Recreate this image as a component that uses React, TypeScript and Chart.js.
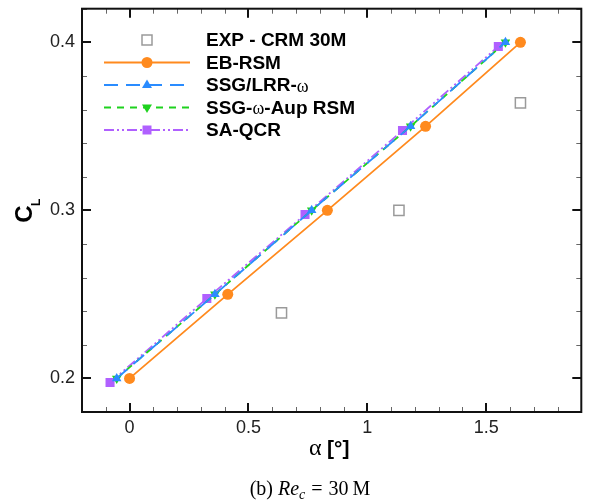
import React, { useEffect, useRef } from 'react';
import { Chart, registerables } from 'chart.js';

Chart.register(...registerables);

// ---- data ----
const expAlpha = [0.639, 1.133, 1.644];
const expCL = [0.239, 0.3, 0.364];

const ebAlpha = [0.0, 0.413, 0.832, 1.245, 1.644];
const ebCL = [0.2, 0.25, 0.3, 0.35, 0.4];

const ssgAlpha = [-0.054, 0.359, 0.766, 1.182, 1.581];
const ssgCL = [0.2, 0.25, 0.3, 0.35, 0.4];

const aupAlpha = [-0.054, 0.359, 0.766, 1.182, 1.581];
const aupCL = [0.2, 0.25, 0.3, 0.35, 0.4];

const saAlpha = [-0.082, 0.325, 0.738, 1.148, 1.551];
const saCL = [0.1975, 0.2475, 0.2975, 0.3475, 0.3975];

const xMajor = [0, 0.5, 1, 1.5];
const xMinor = [-0.2, -0.1, 0.1, 0.2, 0.3, 0.4, 0.6, 0.7, 0.8, 0.9, 1.1, 1.2, 1.3, 1.4, 1.6, 1.7, 1.8, 1.9];
const yMajor = [0.2, 0.3, 0.4];
const yMinor = [0.18, 0.22, 0.24, 0.26, 0.28, 0.32, 0.34, 0.36, 0.38, 0.42];

const legendLabels = ['EXP - CRM 30M', 'EB-RSM', 'SSG/LRR-ω', 'SSG-ω-Aup RSM', 'SA-QCR'];

const ORANGE = '#FF8A1E';
const BLUE = '#2A8CFF';
const GREEN = '#1ED21E';
const PURPLE = '#B060FF';
const GRAY = '#9a9a9a';

const pts = (xs: number[], ys: number[]) => xs.map((x, i) => ({ x, y: ys[i] }));

const SANS = '"Liberation Sans", Arial, sans-serif';
const SERIF = '"Liberation Serif", "Times New Roman", serif';

function drawMarker(ctx: CanvasRenderingContext2D, kind: string, x: number, y: number, color: string) {
  ctx.save();
  ctx.setLineDash([]);
  ctx.fillStyle = color;
  ctx.strokeStyle = color;
  ctx.beginPath();
  if (kind === 'circle') {
    ctx.arc(x, y, 5.5, 0, Math.PI * 2);
    ctx.fill();
  } else if (kind === 'tri') {
    ctx.moveTo(x, y - 5.5);
    ctx.lineTo(x + 5, y + 3);
    ctx.lineTo(x - 5, y + 3);
    ctx.closePath();
    ctx.fill();
  } else if (kind === 'trid') {
    ctx.moveTo(x, y + 5.5);
    ctx.lineTo(x + 5, y - 3);
    ctx.lineTo(x - 5, y - 3);
    ctx.closePath();
    ctx.fill();
  } else if (kind === 'sq') {
    ctx.rect(x - 4.5, y - 4.5, 9, 9);
    ctx.fill();
  } else if (kind === 'hsq') {
    ctx.lineWidth = 1.5;
    ctx.strokeStyle = GRAY;
    ctx.rect(x - 5, y - 5, 10, 10);
    ctx.stroke();
  }
  ctx.restore();
}

const decorPlugin = {
  id: 'decor',
  afterDraw(chart: any) {
    const ctx: CanvasRenderingContext2D = chart.ctx;
    const { left, right, top, bottom } = chart.chartArea;
    const xs = chart.scales.x;
    const ys = chart.scales.y;
    ctx.save();
    const tick = (vals: number[], len: number, lw: number, color: string) => {
      ctx.lineWidth = lw;
      ctx.strokeStyle = color;
      ctx.beginPath();
      for (const v of vals) {
        const px = Math.round(xs.getPixelForValue(v)) + 0.5 * (lw % 2);
        ctx.moveTo(px, bottom);
        ctx.lineTo(px, bottom - len);
        ctx.moveTo(px, top);
        ctx.lineTo(px, top + len);
      }
      ctx.stroke();
    };
    const ytick = (vals: number[], len: number, lw: number, color: string) => {
      ctx.lineWidth = lw;
      ctx.strokeStyle = color;
      ctx.beginPath();
      for (const v of vals) {
        const py = Math.round(ys.getPixelForValue(v)) + 0.5 * (lw % 2);
        ctx.moveTo(left, py);
        ctx.lineTo(left + len, py);
        ctx.moveTo(right, py);
        ctx.lineTo(right - len, py);
      }
      ctx.stroke();
    };
    tick(xMinor, 5, 1, '#666');
    ytick(yMinor, 5, 1, '#666');
    tick(xMajor, 9, 2, '#111');
    ytick(yMajor, 9, 2, '#111');
    ctx.lineWidth = 2;
    ctx.strokeStyle = '#111';
    ctx.strokeRect(left, top, right - left, bottom - top);

    // legend
    const rows = [40, 62.5, 85, 107.5, 130];
    const styles = [
      { kind: 'hsq', color: GRAY, dash: null as number[] | null },
      { kind: 'circle', color: ORANGE, dash: [] },
      { kind: 'tri', color: BLUE, dash: [14, 8] },
      { kind: 'trid', color: GREEN, dash: [7, 6] },
      { kind: 'sq', color: PURPLE, dash: [10, 3, 2, 3, 2, 3] },
    ];
    rows.forEach((y, i) => {
      const s = styles[i];
      if (s.dash) {
        ctx.save();
        ctx.setLineDash(s.dash);
        ctx.lineWidth = 1.8;
        ctx.strokeStyle = s.color;
        ctx.beginPath();
        ctx.moveTo(104, y);
        ctx.lineTo(190, y);
        ctx.stroke();
        ctx.restore();
      }
      drawMarker(ctx, s.kind, 147, y, s.color);
      const label = legendLabels[i];
      const parts = label.split('ω');
      let x = 206;
      ctx.fillStyle = '#000';
      ctx.textBaseline = 'middle';
      ctx.textAlign = 'left';
      parts.forEach((p, k) => {
        ctx.font = `bold 19px ${SANS}`;
        ctx.fillText(p, x, y + 1);
        x += ctx.measureText(p).width;
        if (k < parts.length - 1) {
          ctx.font = `18px ${SERIF}`;
          ctx.fillText('ω', x, y + 2);
          x += ctx.measureText('ω').width;
        }
      });
    });

    // y title C_L
    ctx.save();
    ctx.translate(25, 214);
    ctx.rotate(-Math.PI / 2);
    ctx.fillStyle = '#000';
    ctx.textAlign = 'center';
    ctx.textBaseline = 'middle';
    ctx.font = `bold 24px ${SANS}`;
    ctx.fillText('C', 0, 0);
    ctx.textAlign = 'left';
    ctx.textBaseline = 'alphabetic';
    ctx.font = `bold 12px ${SANS}`;
    ctx.fillText('L', 8, 15);
    ctx.restore();

    // x title α [°]
    ctx.fillStyle = '#000';
    ctx.textAlign = 'left';
    ctx.textBaseline = 'alphabetic';
    ctx.font = `24px ${SERIF}`;
    ctx.fillText('α', 309, 455);
    ctx.font = `bold 21px ${SANS}`;
    ctx.fillText('[°]', 327, 455);
    ctx.restore();
  },
};

export default function App() {
  const ref = useRef<HTMLCanvasElement | null>(null);
  useEffect(() => {
    if (!ref.current) return;
    const chart = new Chart(ref.current, {
      type: 'scatter',
      data: {
        datasets: [
          {
            label: legendLabels[0],
            data: pts(expAlpha, expCL),
            showLine: false,
            pointStyle: 'rect',
            pointRadius: 7.2,
            backgroundColor: 'rgba(0,0,0,0)',
            borderColor: GRAY,
            pointBorderWidth: 1.5,
          },
          {
            label: legendLabels[1],
            data: pts(ebAlpha, ebCL),
            showLine: true,
            borderColor: ORANGE,
            backgroundColor: ORANGE,
            borderWidth: 1.8,
            pointStyle: 'circle',
            pointRadius: 5.5,
            pointBorderWidth: 0,
          },
          {
            label: legendLabels[2],
            data: pts(ssgAlpha, ssgCL),
            showLine: true,
            borderColor: BLUE,
            backgroundColor: BLUE,
            borderWidth: 1.8,
            borderDash: [14, 8],
            pointStyle: 'triangle',
            pointRadius: 5.5,
            pointBorderWidth: 0,
          },
          {
            label: legendLabels[3],
            data: pts(aupAlpha, aupCL),
            showLine: true,
            borderColor: GREEN,
            backgroundColor: GREEN,
            borderWidth: 1.8,
            borderDash: [7, 6],
            pointStyle: 'triangle',
            rotation: 180,
            pointRadius: 5.5,
            pointBorderWidth: 0,
          },
          {
            label: legendLabels[4],
            data: pts(saAlpha, saCL),
            showLine: true,
            borderColor: PURPLE,
            backgroundColor: PURPLE,
            borderWidth: 1.8,
            borderDash: [10, 3, 2, 3, 2, 3],
            pointStyle: 'rect',
            pointRadius: 6.4,
            pointBorderWidth: 0,
          },
        ],
      },
      options: {
        animation: false,
        responsive: false,
        events: [],
        layout: { padding: { top: 7, right: 8, left: 0, bottom: 0 } },
        plugins: { legend: { display: false }, tooltip: { enabled: false } },
        scales: {
          x: {
            type: 'linear',
            min: -0.2,
            max: 1.9,
            grid: { display: false, drawTicks: false },
            border: { display: false },
            afterBuildTicks: (s: any) => {
              s.ticks = xMajor.map((v) => ({ value: v }));
            },
            afterFit: (s: any) => {
              s.height = 90;
              s.paddingLeft = 0;
              s.paddingRight = 0;
            },
            ticks: {
              padding: 5,
              color: '#222',
              font: { family: SANS, size: 18 },
              maxRotation: 0,
              callback: (v: any) => String(v),
            },
          },
          y: {
            type: 'linear',
            min: 0.18,
            max: 0.42,
            grid: { display: false, drawTicks: false },
            border: { display: false },
            afterBuildTicks: (s: any) => {
              s.ticks = yMajor.map((v) => ({ value: v }));
            },
            afterFit: (s: any) => {
              s.width = 82;
              s.paddingTop = 0;
              s.paddingBottom = 0;
            },
            ticks: {
              padding: 7,
              color: '#222',
              font: { family: SANS, size: 18 },
              callback: (v: any) => String(v),
            },
          },
        },
      },
      plugins: [decorPlugin],
    });
    return () => chart.destroy();
  }, []);

  return (
    <div style={{ position: 'absolute', left: 0, top: 0, width: 590, height: 502, background: '#fff' }}>
      <canvas ref={ref} width={590} height={502} style={{ position: 'absolute', left: 0, top: 0, width: 590, height: 502 }} />
      <div
        style={{
          position: 'absolute',
          left: 0,
          width: 620,
          top: 476,
          textAlign: 'center',
          fontFamily: SERIF,
          fontSize: 20,
          lineHeight: '24px',
          color: '#000',
          whiteSpace: 'nowrap',
        }}
      >
        (b) <i>Re</i>
        <sub style={{ fontSize: 14, fontStyle: 'italic', verticalAlign: '-4px', lineHeight: 0 }}>c</sub>
        <span style={{ margin: '0 6px' }}>=</span>30{'\u2009'}M
      </div>
    </div>
  );
}
